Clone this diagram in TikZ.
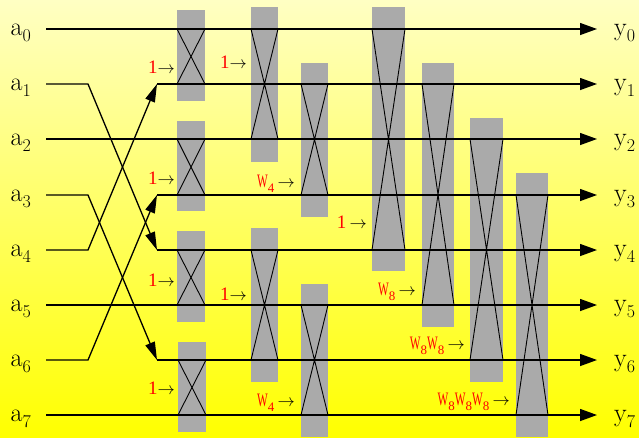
\documentclass[tikz,border=0pt]{standalone}
\usepackage{graphicx}
\usepackage{fontspec}
\usetikzlibrary{arrows.meta}

\newfontfamily\twfont{Liberation Serif}
\definecolor{bgtop}{RGB}{255,255,195}
\definecolor{bgbot}{RGB}{255,255,0}
\definecolor{boxgray}{RGB}{170,170,170}
\newcommand\Wn{\scalebox{0.6}[1]{W}}
\newcommand\iosub[1]{\raisebox{-0.24em}{\fontsize{18}{18}\selectfont #1}}
\newcommand\wsub[1]{\raisebox{-0.3em}{\fontsize{13}{13}\selectfont #1}}

\begin{document}
\begin{tikzpicture}[x=1pt, y=-1pt,
    wire/.style={line width=1.3pt},
    outarrow/.style={wire, -{Triangle[length=17pt,width=12pt]}},
    swaparrow/.style={wire, -{Triangle[length=18pt,width=10pt]}},
    bfbox/.style={fill=boxgray},
    cross/.style={line width=0.9pt},
    io/.style={inner sep=0pt, font=\fontsize{26}{30}\selectfont},
    tw/.style={inner sep=0pt, anchor=base east, font=\twfont\fontsize{19}{21}\selectfont}]
    % Background
    \shade[top color=bgtop, bottom color=bgbot] (0,0) rectangle (639,437);
    \useasboundingbox (0,0) rectangle (639,437);

    % Stage 1 butterflies
    \fill[bfbox] (177,10) rectangle (205,101);
    \draw[cross] (177,29) -- (205,84) (205,29) -- (177,84);
    \fill[bfbox] (177,121) rectangle (205,211);
    \draw[cross] (177,139) -- (205,195) (205,139) -- (177,195);
    \fill[bfbox] (177,231) rectangle (205,322);
    \draw[cross] (177,250) -- (205,305) (205,250) -- (177,305);
    \fill[bfbox] (178,342) rectangle (206,432);
    \draw[cross] (178,360) -- (206,415) (206,360) -- (178,415);

    % Stage 2 butterflies
    \fill[bfbox] (251,7) rectangle (278,162);
    \draw[cross] (251,29) -- (278,139) (278,29) -- (251,139);
    \fill[bfbox] (251,228) rectangle (278,382);
    \draw[cross] (251,250) -- (278,360) (278,250) -- (251,360);
    \fill[bfbox] (301,63) rectangle (328,217);
    \draw[cross] (301,84) -- (328,195) (328,84) -- (301,195);
    \fill[bfbox] (301,284) rectangle (328,437);
    \draw[cross] (301,305) -- (328,415) (328,305) -- (301,415);

    % Stage 3 butterflies
    \fill[bfbox] (372,7) rectangle (405,271);
    \draw[cross] (372,29) -- (405,250) (405,29) -- (372,250);
    \fill[bfbox] (422,63) rectangle (454,327);
    \draw[cross] (422,84) -- (454,305) (454,84) -- (422,305);
    \fill[bfbox] (470,118) rectangle (503,382);
    \draw[cross] (470,139) -- (503,360) (503,139) -- (470,360);
    \fill[bfbox] (516,173) rectangle (548,437);
    \draw[cross] (516,195) -- (548,415) (548,195) -- (516,415);

    % Inputs and outputs
    \foreach \i/\yy in {0/29,1/84,2/139,3/195,4/250,5/305,6/360,7/415} {
        \node[io, anchor=base east] (a\i) at (31,\yy+6) {a\iosub{\i}};
        \node[io, anchor=base west] (y\i) at (614,\yy+6) {y\iosub{\i}};
        \coordinate (s\i) at (46,\yy);
        \coordinate (b\i) at (88,\yy);
        \coordinate (c\i) at (157,\yy);
        \coordinate (t\i) at (597,\yy);
    }

    % Wires (bit reversal on the left)
    \foreach \i in {0,2,5,7}
        \draw[outarrow] (s\i) -- (t\i);
    \foreach \i/\j in {1/4,4/1,3/6,6/3} {
        \draw[swaparrow] (s\i) -- (b\i) -- (c\j);
        \draw[outarrow] (c\j) -- (t\j);
    }

    % Twiddle factors
    \node[tw] (f1a) at (175,73) {\textcolor{red}{1}$\rightarrow$};
    \node[tw] (f1b) at (175,184) {\textcolor{red}{1}$\rightarrow$};
    \node[tw] (f1c) at (175,286) {\textcolor{red}{1}$\rightarrow$};
    \node[tw] (f1d) at (175,394) {\textcolor{red}{1}$\rightarrow$};
    \node[tw] (f2a) at (247,68) {\textcolor{red}{1}$\rightarrow$};
    \node[tw] (f2b) at (247,300) {\textcolor{red}{1}$\rightarrow$};
    \node[tw] (f2c) at (295,187) {\textcolor{red}{\Wn\wsub{4}}\,$\rightarrow$};
    \node[tw] (f2d) at (295,406) {\textcolor{red}{\Wn\wsub{4}}\,$\rightarrow$};
    \node[tw] (f3a) at (367,228) {\textcolor{red}{1}\,$\rightarrow$};
    \node[tw] (f3b) at (416,295) {\textcolor{red}{\Wn\wsub{8}}\,$\rightarrow$};
    \node[tw] (f3c) at (465,349) {\textcolor{red}{\Wn\wsub{8}\Wn\wsub{8}}\,$\rightarrow$};
    \node[tw] (f3d) at (510,405) {\textcolor{red}{\Wn\wsub{8}\Wn\wsub{8}\Wn\wsub{8}}\,$\rightarrow$};
\end{tikzpicture}
\end{document}
